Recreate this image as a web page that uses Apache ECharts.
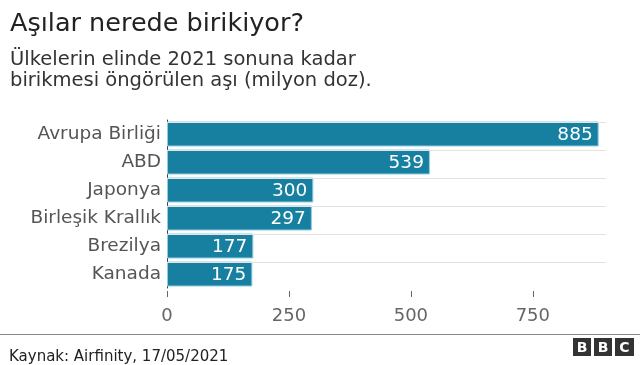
<!DOCTYPE html>
<html>
<head>
<meta charset="utf-8">
<script src="https://cdn.jsdelivr.net/npm/echarts@6/dist/echarts.min.js"></script>
<style>
html,body{margin:0;padding:0;background:#fff;}
#c{width:640px;height:365px;}
</style>
</head>
<body>
<div id="c"></div>
<script>
const categories = ['Avrupa Birliği', 'ABD', 'Japonya', 'Birleşik Krallık', 'Brezilya', 'Kanada'];
const values = [885, 539, 300, 297, 177, 175];
const xTicks = [0, 250, 500, 750];

const FONT = "'DejaVu Sans', sans-serif";
const chart = echarts.init(document.getElementById('c'), null, {renderer: 'canvas'});
chart.setOption({
  animation: false,
  backgroundColor: '#fff',
  title: [
    {text: 'Aşılar nerede birikiyor?', left: 5, top: 4,
     textStyle: {fontFamily: FONT, fontSize: 25.5, fontWeight: 'normal', color: '#222', lineHeight: 30}},
    {text: 'Ülkelerin elinde 2021 sonuna kadar\nbirikmesi öngörülen aşı (milyon doz).', left: 5, top: 44,
     textStyle: {fontFamily: FONT, fontSize: 19.5, fontWeight: 'normal', color: '#333', lineHeight: 21}},
    {text: 'Kaynak: Airfinity, 17/05/2021', left: 4, top: 343,
     textStyle: {fontFamily: FONT, fontSize: 15, fontWeight: 'normal', color: '#222', lineHeight: 18}}
  ],
  grid: {left: 167, right: 34, top: 120, bottom: 77, containLabel: false},
  xAxis: {
    type: 'value', min: 0, max: 900, interval: 250, offset: 3,
    axisLine: {show: false},
    axisTick: {show: true, length: 6, customValues: xTicks, lineStyle: {color: '#666', width: 1}},
    axisLabel: {customValues: xTicks, margin: 16, fontFamily: FONT, fontSize: 18, color: '#666'},
    splitLine: {show: false}
  },
  yAxis: {
    type: 'category', data: categories, inverse: true,
    axisLine: {show: true, lineStyle: {color: '#444', width: 1}},
    axisTick: {show: false},
    axisLabel: {margin: 6, fontFamily: FONT, fontSize: 18.5, color: '#555'},
    splitLine: {show: false}
  },
  series: [
    {
      type: 'bar', data: [], z: 1, silent: true,
      markLine: {
        silent: true, symbol: 'none', label: {show: false},
        lineStyle: {color: '#e3e3e3', width: 1, type: 'solid'},
        data: categories.map(c => ({yAxis: c}))
      }
    },
    {
      type: 'bar', data: values, barWidth: 25, z: 3, barGap: '-100%',
      itemStyle: {color: '#1780a0', borderColor: '#8fcde0', borderWidth: 1},
      label: {show: true, position: 'insideRight', distance: 6, color: '#fff',
              fontFamily: FONT, fontSize: 18.5, offset: [0, 1]}
    }
  ],
  graphic: [
    {type: 'rect', shape: {x: 0, y: 334, width: 640, height: 1}, style: {fill: '#888'}},
    {type: 'group', left: 573, top: 338, children: [
      {type: 'rect', shape: {x: 0, y: 0, width: 18, height: 18}, style: {fill: '#333'}},
      {type: 'rect', shape: {x: 21, y: 0, width: 18, height: 18}, style: {fill: '#333'}},
      {type: 'rect', shape: {x: 42, y: 0, width: 19, height: 18}, style: {fill: '#333'}},
      {type: 'text', style: {x: 9, y: 10, text: 'B', fill: '#fff', font: 'bold 14px ' + FONT, textAlign: 'center', textVerticalAlign: 'middle'}},
      {type: 'text', style: {x: 30, y: 10, text: 'B', fill: '#fff', font: 'bold 14px ' + FONT, textAlign: 'center', textVerticalAlign: 'middle'}},
      {type: 'text', style: {x: 51.5, y: 10, text: 'C', fill: '#fff', font: 'bold 14px ' + FONT, textAlign: 'center', textVerticalAlign: 'middle'}}
    ]}
  ]
});
</script>
</body>
</html>
